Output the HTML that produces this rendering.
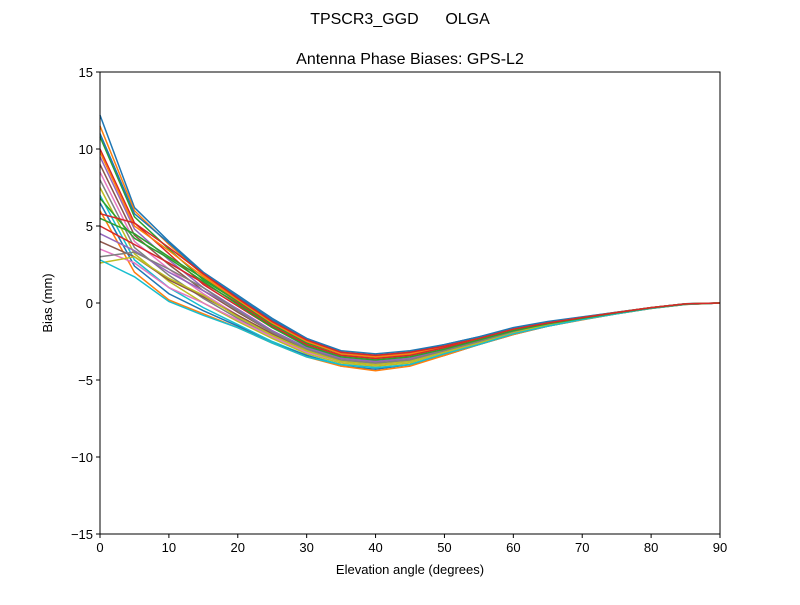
<!DOCTYPE html>
<html><head><meta charset="utf-8"><style>
body{margin:0;background:#fff;}
svg text{font-family:"Liberation Sans","DejaVu Sans",sans-serif;fill:#000;}
</style></head><body>
<svg id="chart" width="800" height="600">
<text x="400" y="24" font-size="16" text-anchor="middle" xml:space="preserve">TPSCR3_GGD      OLGA</text>
<text x="410" y="64" font-size="16" text-anchor="middle">Antenna Phase Biases: GPS-L2</text>
<g id="plot"></g>
<g id="axes"></g>
<text x="410" y="574" font-size="13" text-anchor="middle">Elevation angle (degrees)</text>
<text x="0" y="0" font-size="13" text-anchor="middle" transform="translate(52,303) rotate(-90)">Bias (mm)</text>
</svg>
<script>
const elevations=[0,5,10,15,20,25,30,35,40,45,50,55,60,65,70,75,80,85,90];
const xTicks=[0,10,20,30,40,50,60,70,80,90];
const yTicks=[-15,-10,-5,0,5,10,15];
const yTickLabels=["\u221215","\u221210","\u22125","0","5","10","15"];
const s1=[12.2,6.2,4.0,2.0,0.5,-1.0,-2.3,-3.1,-3.3,-3.1,-2.7,-2.2,-1.6,-1.2,-0.9,-0.6,-0.3,-0.05,0];
const s2=[11.5,6.0,3.8,1.8,0.3,-1.2,-2.4,-3.2,-3.4,-3.2,-2.8,-2.3,-1.7,-1.3,-0.95,-0.6,-0.3,-0.05,0];
const s3=[10.8,5.6,3.5,1.5,0.1,-1.4,-2.6,-3.3,-3.5,-3.3,-2.8,-2.3,-1.7,-1.3,-0.95,-0.62,-0.3,-0.06,0];
const s4=[10.0,5.2,3.2,1.2,-0.2,-1.6,-2.7,-3.4,-3.6,-3.4,-2.9,-2.4,-1.8,-1.3,-1.0,-0.63,-0.32,-0.07,0];
const s5=[9.5,4.8,2.8,1.0,-0.4,-1.8,-2.9,-3.5,-3.7,-3.5,-3.0,-2.4,-1.8,-1.35,-1.0,-0.64,-0.32,-0.07,0];
const s6=[9.0,4.4,2.5,0.8,-0.6,-1.9,-3.0,-3.6,-3.8,-3.6,-3.0,-2.5,-1.85,-1.35,-1.0,-0.65,-0.33,-0.07,0];
const s7=[8.5,4.0,2.2,0.6,-0.8,-2.0,-3.1,-3.7,-3.9,-3.7,-3.1,-2.5,-1.9,-1.4,-1.02,-0.66,-0.33,-0.08,0];
const s8=[8.0,3.6,1.8,0.3,-1.0,-2.2,-3.2,-3.8,-4.0,-3.8,-3.2,-2.6,-1.95,-1.4,-1.03,-0.67,-0.34,-0.08,0];
const s9=[7.5,3.2,1.4,0.0,-1.2,-2.3,-3.3,-3.9,-4.1,-3.9,-3.2,-2.6,-2.0,-1.45,-1.05,-0.68,-0.34,-0.08,0];
const s10=[7.0,2.8,1.0,-0.3,-1.4,-2.5,-3.4,-4.0,-4.2,-4.0,-3.3,-2.7,-2.0,-1.5,-1.07,-0.7,-0.35,-0.09,0];
const s11=[6.5,2.4,0.6,-0.5,-1.5,-2.6,-3.4,-4.1,-4.3,-4.0,-3.4,-2.7,-2.05,-1.5,-1.08,-0.7,-0.35,-0.09,0];
const s12=[6.0,2.0,0.2,-0.7,-1.6,-2.6,-3.5,-4.1,-4.4,-4.1,-3.4,-2.7,-2.05,-1.5,-1.1,-0.7,-0.36,-0.1,0];
const s13=[5.5,4.5,3.0,1.6,0.2,-1.3,-2.5,-3.3,-3.5,-3.3,-2.8,-2.3,-1.7,-1.3,-0.95,-0.62,-0.3,-0.06,0];
const s14=[5.0,3.8,2.6,1.3,0.0,-1.5,-2.7,-3.4,-3.6,-3.4,-2.9,-2.4,-1.8,-1.3,-1.0,-0.63,-0.32,-0.07,0];
const s15=[4.5,3.4,2.0,0.8,-0.4,-1.8,-2.9,-3.6,-3.8,-3.6,-3.0,-2.5,-1.85,-1.35,-1.0,-0.65,-0.33,-0.07,0];
const s16=[4.0,3.0,1.5,0.4,-0.8,-2.0,-3.1,-3.7,-3.9,-3.7,-3.1,-2.5,-1.9,-1.4,-1.02,-0.66,-0.33,-0.08,0];
const s17=[3.5,2.6,1.0,0.0,-1.1,-2.2,-3.2,-3.8,-4.0,-3.8,-3.2,-2.6,-1.95,-1.4,-1.03,-0.67,-0.34,-0.08,0];
const s18=[3.0,3.3,2.2,1.0,-0.5,-1.9,-3.0,-3.7,-3.9,-3.7,-3.1,-2.5,-1.9,-1.4,-1.02,-0.66,-0.33,-0.08,0];
const s19=[2.6,3.0,1.6,0.5,-0.9,-2.1,-3.1,-3.8,-4.0,-3.8,-3.2,-2.6,-1.95,-1.4,-1.03,-0.67,-0.34,-0.08,0];
const s20=[2.8,1.7,0.1,-0.8,-1.6,-2.6,-3.5,-4.0,-4.2,-4.0,-3.3,-2.7,-2.0,-1.5,-1.07,-0.7,-0.35,-0.09,0];
const s21=[11.0,5.8,3.9,1.9,0.4,-1.1,-2.3,-3.2,-3.4,-3.2,-2.7,-2.2,-1.65,-1.25,-0.92,-0.6,-0.3,-0.05,0];
const s22=[9.8,5.0,3.4,1.7,0.2,-1.3,-2.5,-3.3,-3.5,-3.3,-2.8,-2.3,-1.7,-1.3,-0.95,-0.62,-0.3,-0.06,0];
const s23=[6.8,4.2,2.9,1.4,-0.1,-1.6,-2.8,-3.5,-3.7,-3.5,-3.0,-2.4,-1.8,-1.35,-1.0,-0.64,-0.32,-0.07,0];
const s24=[5.8,5.2,3.6,1.9,0.3,-1.2,-2.4,-3.2,-3.4,-3.2,-2.8,-2.3,-1.7,-1.3,-0.95,-0.62,-0.3,-0.06,0];
const series=[s1,s2,s3,s4,s5,s6,s7,s8,s9,s10,s11,s12,s13,s14,s15,s16,s17,s18,s19,s20,s21,s22,s23,s24];
const colors=["#1f77b4","#ff7f0e","#2ca02c","#d62728","#9467bd","#8c564b","#e377c2","#7f7f7f","#bcbd22","#17becf"];
const L=100,R=720,T=72,B=534;
function xs(v){return L+(v-0)/(90-0)*(R-L);}
function ys(v){return B-(v+15)/30*(B-T);}
const NS="http://www.w3.org/2000/svg";
const plot=document.getElementById('plot'),axes=document.getElementById('axes');
series.forEach((s,i)=>{
  const p=document.createElementNS(NS,'polyline');
  p.setAttribute('points',s.map((v,j)=>xs(elevations[j]).toFixed(2)+','+ys(v).toFixed(2)).join(' '));
  p.setAttribute('fill','none');p.setAttribute('stroke',colors[i%10]);p.setAttribute('stroke-width','1.5');
  
  
  plot.appendChild(p);
});
const frame=document.createElementNS(NS,'rect');
frame.setAttribute('x',L);frame.setAttribute('y',T);frame.setAttribute('width',R-L);frame.setAttribute('height',B-T);
frame.setAttribute('fill','none');frame.setAttribute('stroke','#000');frame.setAttribute('stroke-width','1');


axes.appendChild(frame);
xTicks.forEach(t=>{
  const x=xs(t);
  const l=document.createElementNS(NS,'line');
  l.setAttribute('x1',x);l.setAttribute('x2',x);l.setAttribute('y1',B);l.setAttribute('y2',B+4);l.setAttribute('stroke','#000');
  
  
  axes.appendChild(l);
  const tx=document.createElementNS(NS,'text');
  tx.setAttribute('x',x);tx.setAttribute('y',B+18);tx.setAttribute('font-size','13');tx.setAttribute('text-anchor','middle');
  tx.textContent=t;
  
  
  axes.appendChild(tx);
});
yTicks.forEach((t,i)=>{
  const y=ys(t);
  const l=document.createElementNS(NS,'line');
  l.setAttribute('x1',L-4);l.setAttribute('x2',L);l.setAttribute('y1',y);l.setAttribute('y2',y);l.setAttribute('stroke','#000');
  
  
  axes.appendChild(l);
  const tx=document.createElementNS(NS,'text');
  tx.setAttribute('x',L-7);tx.setAttribute('y',y+5);tx.setAttribute('font-size','13');tx.setAttribute('text-anchor','end');
  tx.textContent=yTickLabels[i];
  
  
  axes.appendChild(tx);
});
</script>
</body></html>
